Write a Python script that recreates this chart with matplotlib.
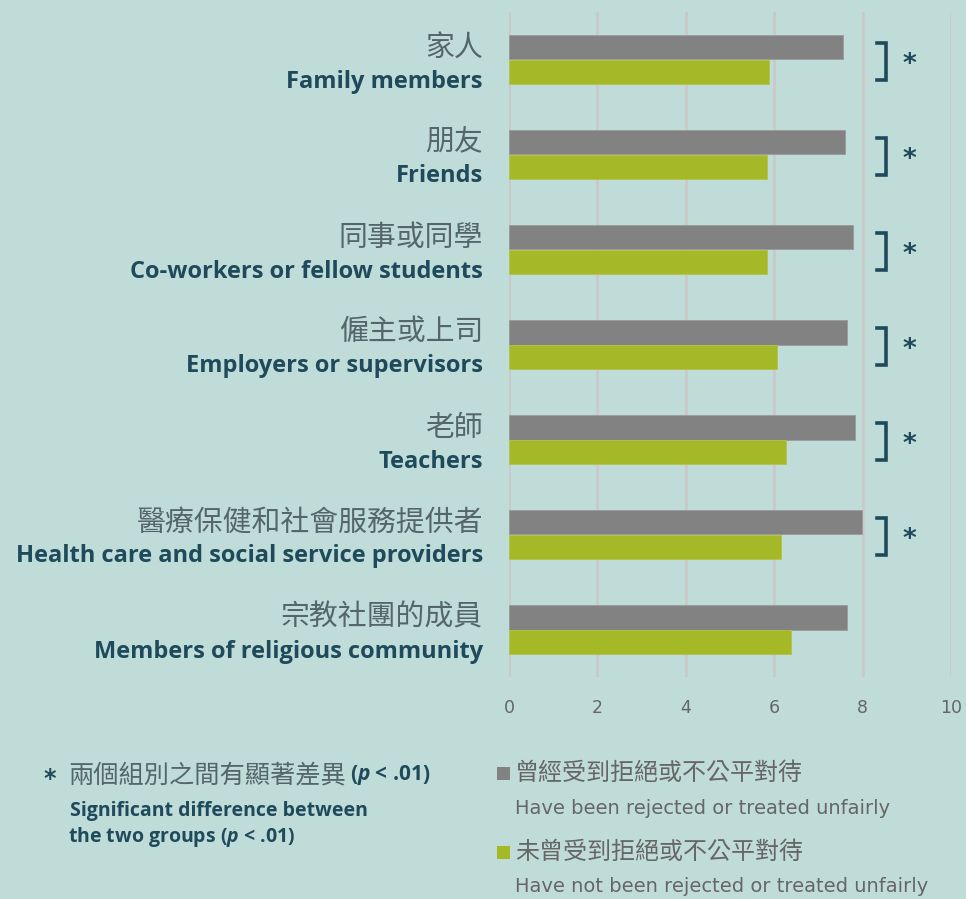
import matplotlib
matplotlib.use("Agg")
import matplotlib.pyplot as plt
from matplotlib.patches import Rectangle

cats_zh = ["家人", "朋友", "同事或同學", "僱主或上司", "老師", "醫療保健和社會服務提供者", "宗教社團的成員"]
cats_en = ["Family members", "Friends", "Co-workers or fellow students", "Employers or supervisors",
           "Teachers", "Health care and social service providers", "Members of religious community"]
rejected = [7.56, 7.60, 7.78, 7.65, 7.83, 7.98, 7.65]
not_rejected = [5.88, 5.84, 5.84, 6.07, 6.27, 6.15, 6.38]
significant = [True, True, True, True, True, True, False]
xticks = [0, 2, 4, 6, 8, 10]

BG = "#c0dcd8"
GRAY = "#828282"
GREEN = "#a5b828"
DARK = "#1f4a5c"
ZHC = "#55666b"
CJK = ["Noto Sans CJK TC", "DejaVu Sans"]
EN = "Open Sans"

plt.rcParams["mathtext.fontset"] = "custom"
plt.rcParams["mathtext.it"] = "Open Sans:italic:bold"

fig = plt.figure(figsize=(9.66, 8.99), dpi=100, facecolor=BG)
W, H = 966, 899
ax = fig.add_axes([509 / W, 1 - 677 / H, (951 - 509) / W, (677 - 12) / H])
ax.set_facecolor(BG)

n = len(cats_en)
ys = list(range(n))
bh = 0.255
ax.barh([y - bh / 2 for y in ys], rejected, height=bh, color=GRAY, edgecolor="#9a9a9a", linewidth=0.6, zorder=3)
ax.barh([y + bh / 2 for y in ys], not_rejected, height=bh, color=GREEN, edgecolor="#b3c34a", linewidth=0.6, zorder=3)

ax.set_xlim(0, 10)
ax.set_ylim(n - 0.5, -0.5)
ax.set_xticks(xticks)
ax.set_yticks([])
ax.grid(axis="x", color="#c9c9c9", linewidth=2, zorder=0)
for s in ax.spines.values():
    s.set_visible(False)
ax.tick_params(axis="x", length=0, pad=16, labelsize=12.5, labelcolor="#666666")

for y, sig in zip(ys, significant):
    if sig:
        ax.plot([8.32, 8.53, 8.53, 8.32], [y - 0.17, y - 0.17, y + 0.22, y + 0.22],
                color=DARK, linewidth=2.6, solid_joinstyle="miter", zorder=4, clip_on=False)
        ax.text(9.07, y + 0.06, "*", color=DARK, fontsize=19, fontweight="bold",
                ha="center", va="center", family="DejaVu Sans")

# category labels
for y, zh, en in zip(ys, cats_zh, cats_en):
    ypix = 12 + (y + 0.5) * 95
    fig.text(483 / W, 1 - (ypix - 12) / H, zh, ha="right", va="center", fontsize=20.8,
             color=ZHC, family=CJK)
    fig.text(483 / W, 1 - (ypix + 22) / H, en, ha="right", va="center", fontsize=17,
             color=DARK, family=EN, fontweight="bold")

# bottom-left note
fig.text(50 / W, 1 - 779 / H, "*", ha="center", va="center", fontsize=17, color=DARK,
         fontweight="bold", family="DejaVu Sans")
fig.text(68 / W, 1 - 775 / H, "兩個組別之間有顯著差異", ha="left", va="center", fontsize=18.2,
         color=ZHC, family=CJK)
fig.text(350 / W, 1 - 775 / H, "($p$ < .01)", ha="left", va="center", fontsize=15,
         color=DARK, family=EN, fontweight="bold")
fig.text(70 / W, 1 - 811 / H, "Significant difference between", ha="left", va="center",
         fontsize=14, color=DARK, family=EN, fontweight="bold")
fig.text(68 / W, 1 - 837 / H, "the two groups ($p$ < .01)", ha="left", va="center",
         fontsize=14, color=DARK, family=EN, fontweight="bold")

# legend
for yy, col, zh, en in [(773, GRAY, "曾經受到拒絕或不公平對待", "Have been rejected or treated unfairly"),
                         (852, GREEN, "未曾受到拒絕或不公平對待", "Have not been rejected or treated unfairly")]:
    fig.patches.append(Rectangle((497 / W, 1 - (yy + 7) / H), 13 / W, 13 / H, transform=fig.transFigure,
                                 facecolor=col, edgecolor="none"))
    fig.text(515 / W, 1 - yy / H, zh, ha="left", va="center", fontsize=17.3, color="#666666", family=CJK)
    fig.text(515 / W, 1 - (yy + 35) / H, en, ha="left", va="center", fontsize=14, color="#666666",
             family="DejaVu Sans")

fig.savefig("out.png", dpi=100, facecolor=BG)
